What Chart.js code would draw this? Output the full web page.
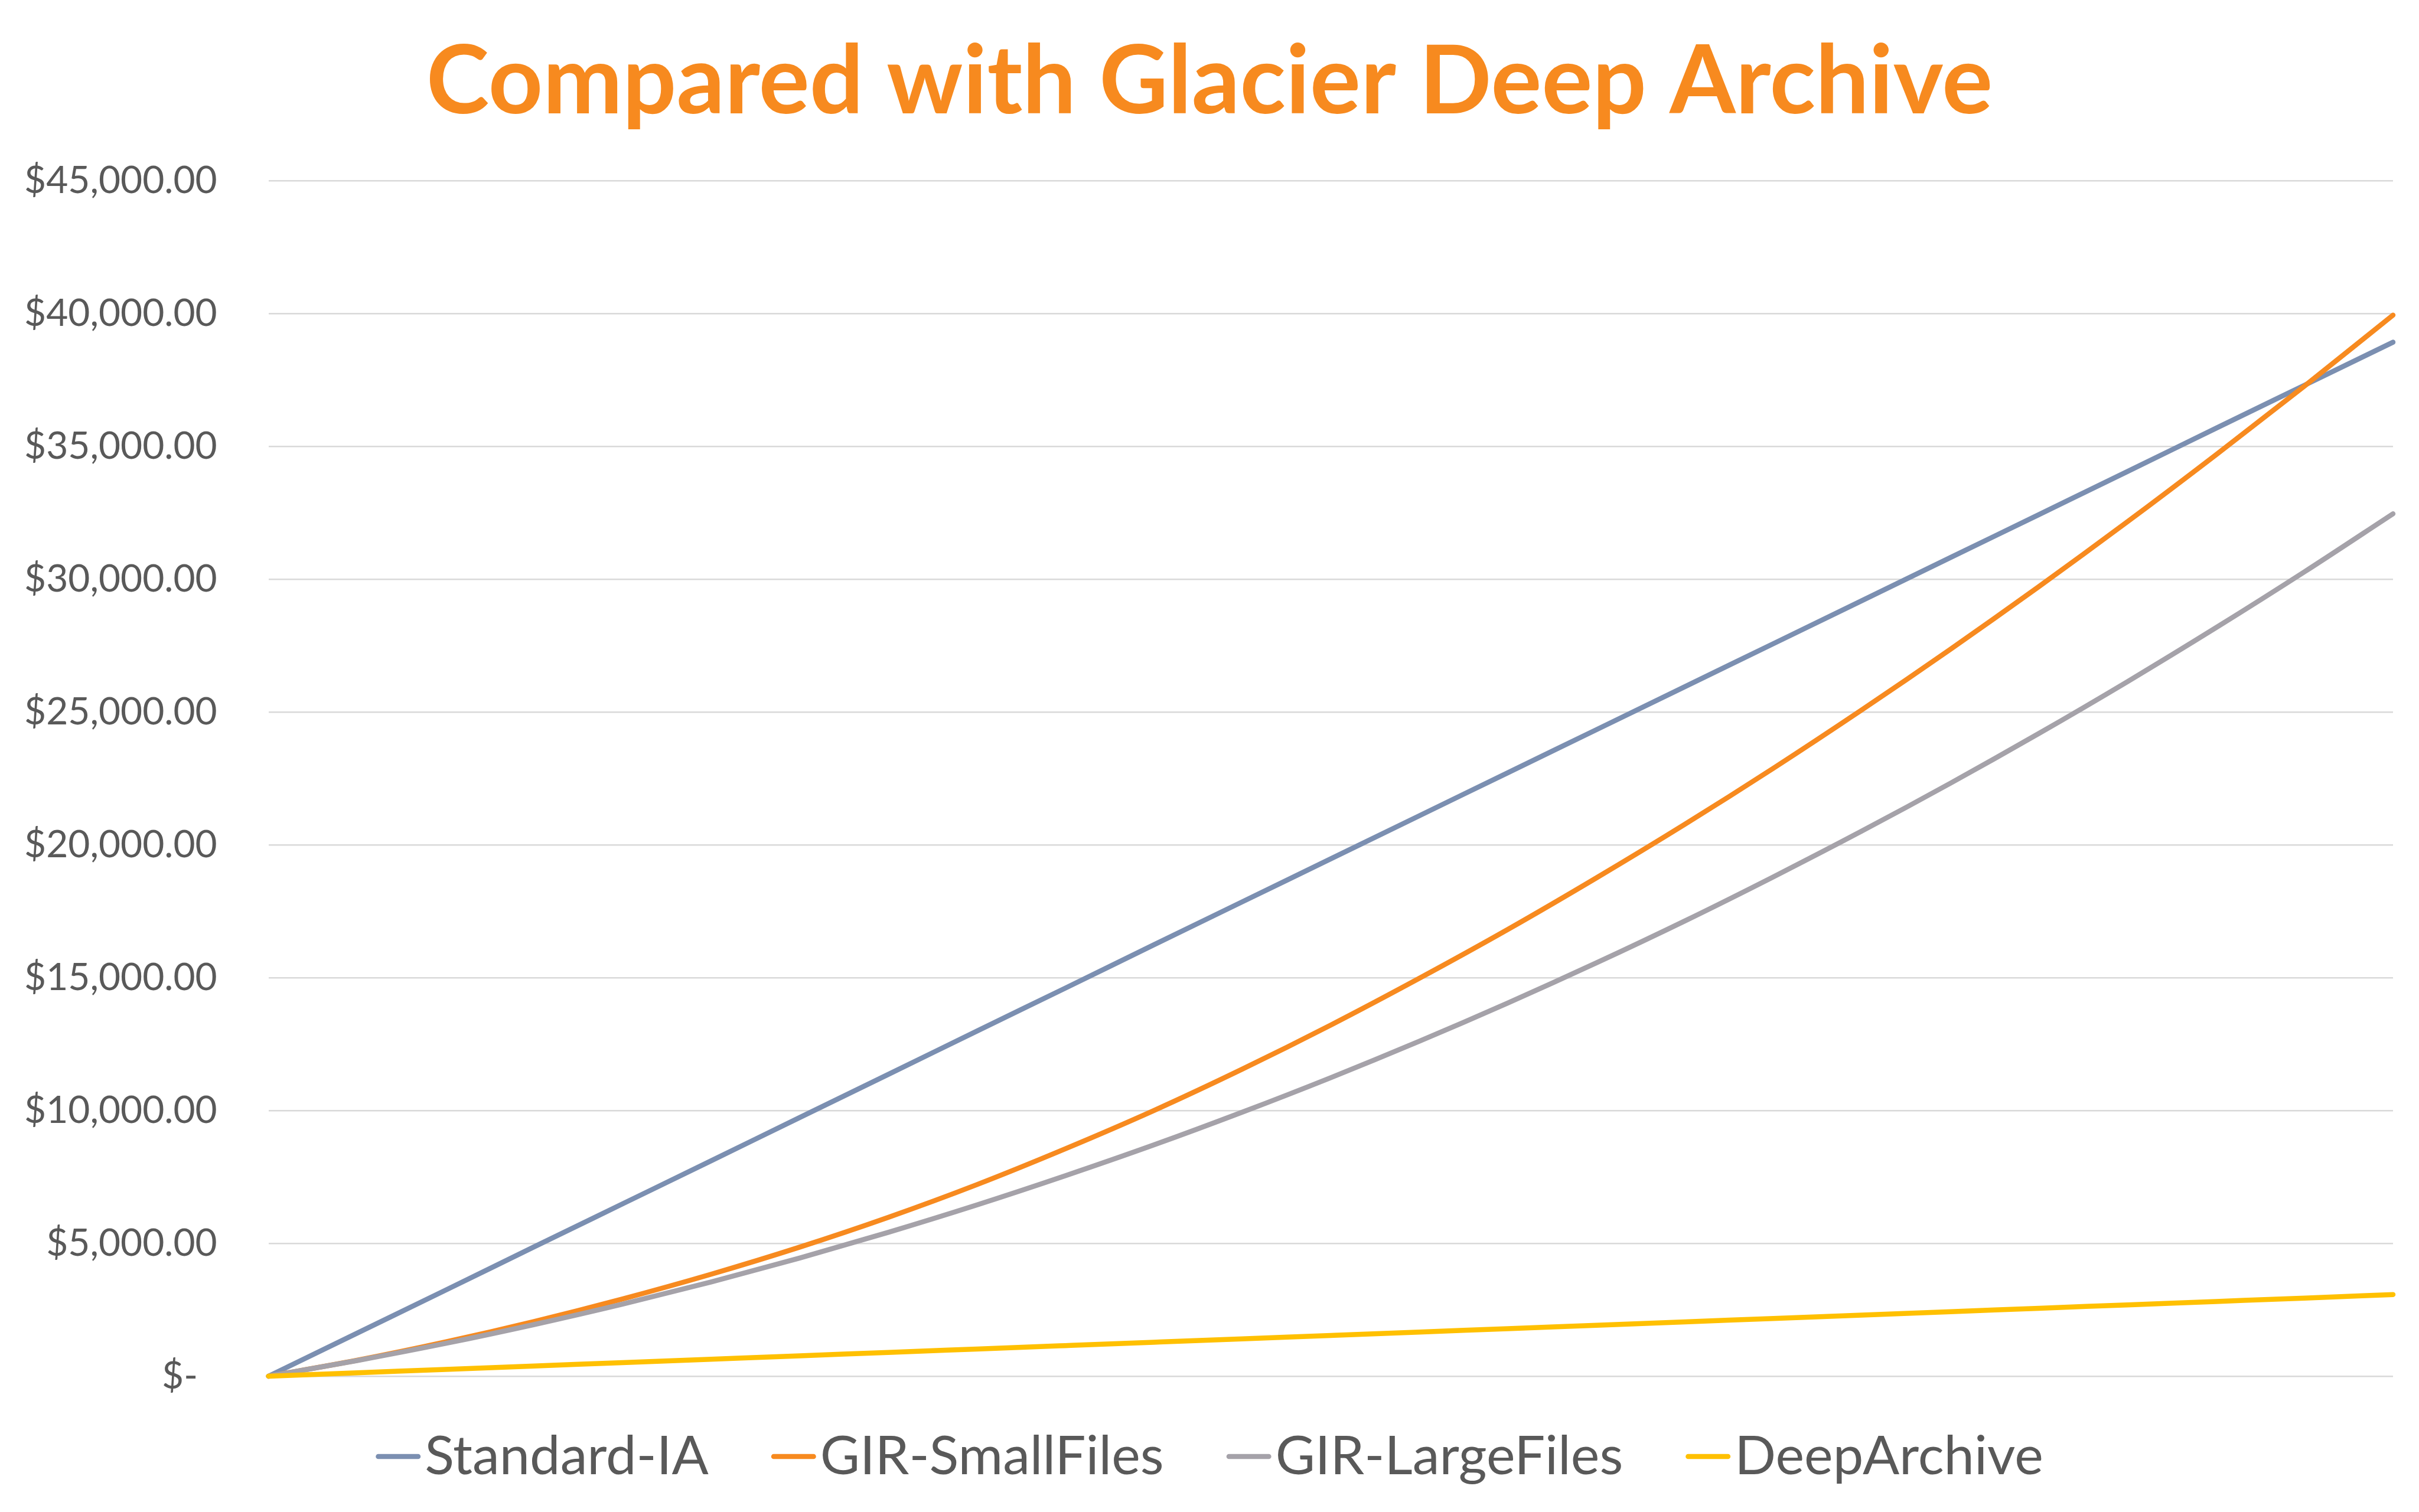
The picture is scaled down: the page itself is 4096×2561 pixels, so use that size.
<!DOCTYPE html>
<html>
<head>
<meta charset="utf-8">
<title>Compared with Glacier Deep Archive</title>
<script src="https://cdn.jsdelivr.net/npm/chart.js@4.4.1/dist/chart.umd.min.js"></script>
<style>
  html, body { margin: 0; padding: 0; background: #ffffff; }
  #wrap { width: 4096px; height: 2561px; }
  canvas { display: block; }
</style>
</head>
<body>
<div id="wrap"><canvas id="c" width="4096" height="2561"></canvas></div>
<script>
// ---- data ----
const chartTitle = 'Compared with Glacier Deep Archive';
const periods = ['0','1','2','3','4','5','6','7','8','9','10','11','12','13','14','15','16','17','18','19','20','21','22','23','24'];
const seriesNames = ['Standard-IA', 'GIR-SmallFiles', 'GIR-LargeFiles', 'DeepArchive'];
const standardIA = [0, 1620, 3240, 4870, 6490, 8110, 9740, 11360, 12990, 14610, 16240, 17860, 19480, 21100, 22720, 24340, 25960, 27580, 29200, 30820, 32440, 34060, 35690, 37310, 38930];
const girSmallFiles = [0, 600, 1290, 2060, 2910, 3840, 4860, 5980, 7210, 8560, 10000, 11560, 13220, 14980, 16820, 18760, 20780, 22890, 25090, 27370, 29730, 32170, 34690, 37280, 39950];
const girLargeFiles = [0, 590, 1235, 1945, 2715, 3550, 4450, 5415, 6445, 7545, 8705, 9940, 11240, 12610, 14050, 15560, 17140, 18800, 20525, 22325, 24200, 26150, 28180, 30285, 32470];
const deepArchive = [0, 128, 256, 384, 512, 640, 768, 895, 1023, 1151, 1279, 1407, 1535, 1663, 1791, 1919, 2047, 2175, 2303, 2431, 2558, 2686, 2814, 2942, 3075];
const yTickLabels = ['$-  ', '$5,000.00', '$10,000.00', '$15,000.00', '$20,000.00', '$25,000.00', '$30,000.00', '$35,000.00', '$40,000.00', '$45,000.00'];

// ---- styling ----
const seriesColors = ['#7B8FB1', '#F78A1F', '#A5A2A9', '#FFC000'];
const seriesValues = [standardIA, girSmallFiles, girLargeFiles, deepArchive];
const FONT = 'Lato';

const refLegend = {
  id: 'refLegend',
  afterDraw(chart, args, opts) {
    const ctx = chart.ctx;
    const area = chart.chartArea;
    ctx.save();
    ctx.font = `${opts.fontSize}px ${FONT}`;
    const items = chart.data.datasets.map(ds => ({
      label: ds.label, color: ds.borderColor, w: ctx.measureText(ds.label).width
    }));
    const total = items.reduce((s, it) => s + opts.swatch + opts.gap + it.w, 0) + opts.spacing * (items.length - 1);
    let x = chart.width / 2 - total / 2;
    const sy = area.bottom + opts.swatchOffset;
    const by = area.bottom + opts.baselineOffset;
    for (const it of items) {
      ctx.strokeStyle = it.color;
      ctx.lineWidth = opts.lineWidth;
      ctx.lineCap = 'round';
      ctx.beginPath();
      ctx.moveTo(x + opts.lineWidth / 2, sy);
      ctx.lineTo(x + opts.swatch - opts.lineWidth / 2, sy);
      ctx.stroke();
      ctx.fillStyle = opts.color;
      ctx.textAlign = 'left';
      ctx.textBaseline = 'alphabetic';
      ctx.fillText(it.label, x + opts.swatch + opts.gap, by);
      x += opts.swatch + opts.gap + it.w + opts.spacing;
    }
    ctx.restore();
  }
};

function build() {
  const datasets = seriesNames.map((name, i) => ({
    label: name,
    data: seriesValues[i],
    borderColor: seriesColors[i],
    backgroundColor: seriesColors[i],
    borderWidth: 8.5,
    borderCapStyle: 'round',
    borderJoinStyle: 'round',
    pointRadius: 0,
    pointHoverRadius: 0,
    cubicInterpolationMode: 'monotone',
    fill: false,
    clip: false,
    order: seriesNames.length - 1 - i
  }));

  new Chart(document.getElementById('c'), {
    type: 'line',
    data: { labels: periods, datasets },
    plugins: [refLegend],
    options: {
      responsive: false,
      devicePixelRatio: 1,
      animation: false,
      events: [],
      layout: { padding: { left: 44, right: 44, top: 0, bottom: 230 } },
      plugins: {
        legend: { display: false },
        tooltip: { enabled: false },
        title: {
          display: true,
          text: chartTitle,
          color: '#F78A1F',
          font: { family: FONT, size: 161, weight: 'bold', lineHeight: 1 },
          padding: { top: 60, bottom: 85.5 }
        },
        refLegend: {
          fontSize: 92,
          color: '#595959',
          swatch: 76,
          gap: 7,
          spacing: 106,
          lineWidth: 8.5,
          swatchOffset: 136,
          baselineOffset: 166
        }
      },
      scales: {
        x: {
          type: 'category',
          display: false,
          offset: false
        },
        y: {
          type: 'linear',
          min: 0,
          max: 45000,
          ticks: {
            stepSize: 5000,
            padding: 87,
            color: '#595959',
            font: { family: FONT, size: 64 },
            callback: (value, index) => yTickLabels[index]
          },
          grid: { color: '#D9D9D9', lineWidth: 2.5, drawTicks: false },
          border: { display: false },
          afterFit: (scale) => { scale.width = 410.7; }
        }
      }
    }
  });
}

Promise.all([
  document.fonts.load(`64px ${FONT}`),
  document.fonts.load(`bold 161px ${FONT}`)
]).then(build, build);
</script>
</body>
</html>
